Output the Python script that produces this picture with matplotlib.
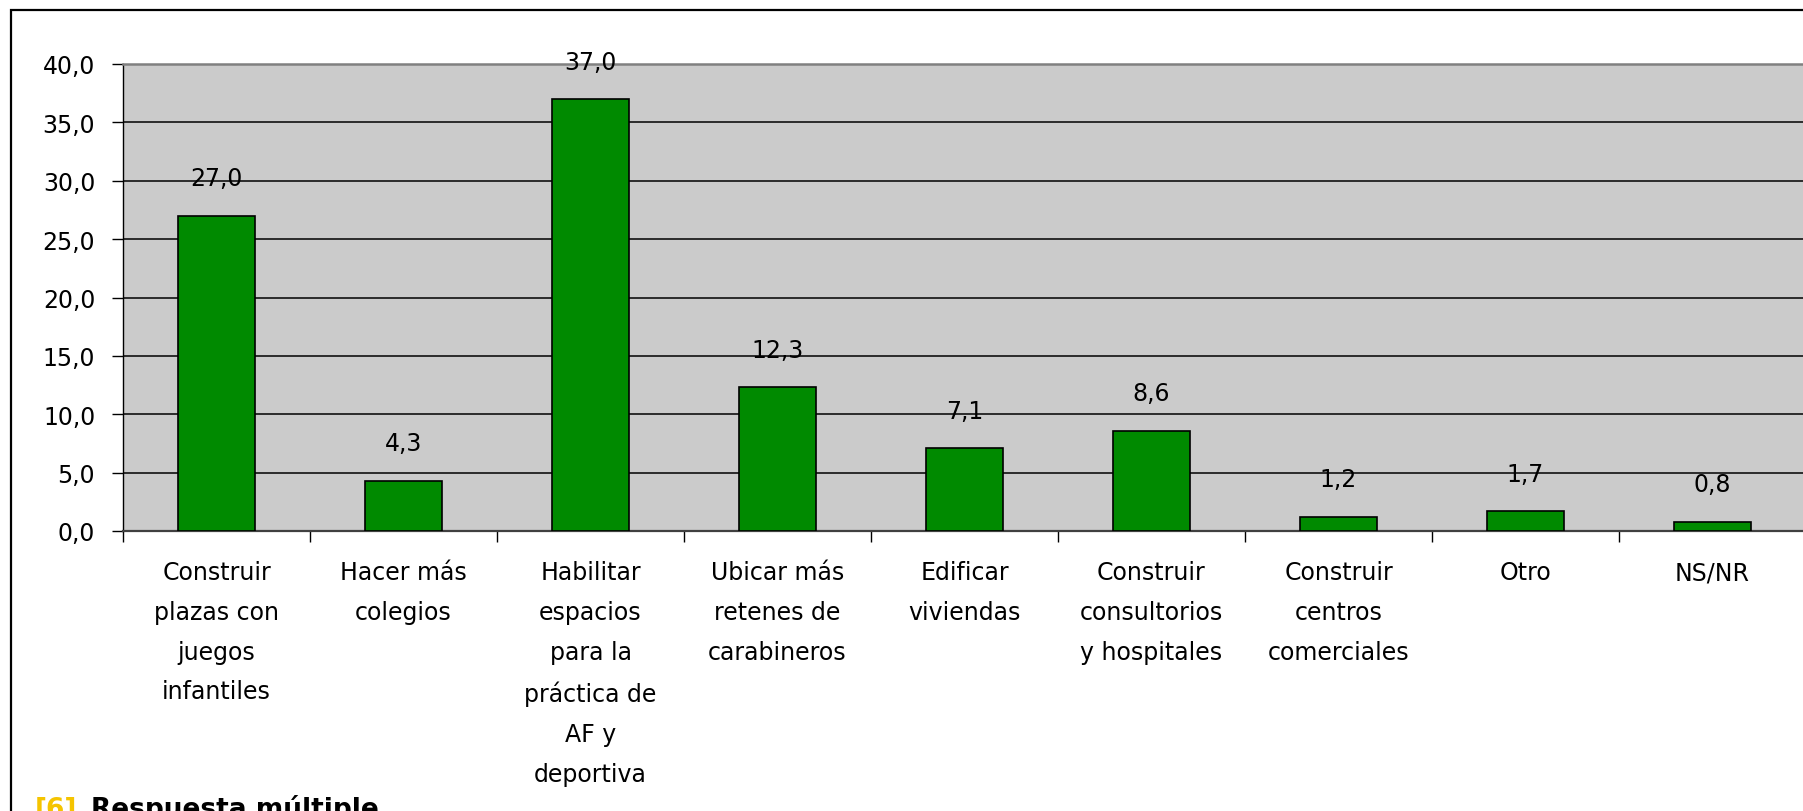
import numpy as np
import matplotlib
matplotlib.use("Agg")
import matplotlib.pyplot as plt
from matplotlib.patches import Rectangle

# Datos del grafico
categorias = [
    "Construir\nplazas con\njuegos\ninfantiles",
    "Hacer más\ncolegios",
    "Habilitar\nespacios\npara la\npráctica de\nAF y\ndeportiva",
    "Ubicar más\nretenes de\ncarabineros",
    "Edificar\nviviendas",
    "Construir\nconsultorios\ny hospitales",
    "Construir\ncentros\ncomerciales",
    "Otro",
    "NS/NR",
]
valores = [27.0, 4.3, 37.0, 12.3, 7.1, 8.6, 1.2, 1.7, 0.8]
y_ticks = [0, 5, 10, 15, 20, 25, 30, 35, 40]

W, H = 1803, 812
fig = plt.figure(figsize=(W / 100, H / 100), dpi=100)
plt.rcParams['font.family'] = ['DejaVu Sans']

# marco exterior
fig.patches.append(Rectangle((11 / W, -0.1), 1.2, (H - 11) / H + 0.1,
                             transform=fig.transFigure, fill=False,
                             edgecolor="black", linewidth=1.6))

# area del grafico
left, top, bottom = 123, 65, 532
n = len(categorias)
ancho_cat = 187
ax = fig.add_axes([left / W, (H - bottom) / H, n * ancho_cat / W, (bottom - top) / H])
ax.set_facecolor("#cbcbcb")

x = np.arange(n)
ax.bar(x, valores, width=0.41, color="#008a00", edgecolor="black", linewidth=1.2, zorder=3)

for xi, v in zip(x, valores):
    ax.annotate(f"{v:.1f}".replace(".", ","), (xi, v), xytext=(0, 27),
                textcoords="offset points", ha="center", va="center", fontsize=17)

ax.set_xlim(-0.5, n - 0.5)
ax.set_ylim(0, 40)
ax.set_yticks(y_ticks)
ax.set_yticklabels([f"{t:.1f}".replace(".", ",") for t in y_ticks], fontsize=17)
ax.yaxis.grid(True, color="black", linewidth=1.1, zorder=1)
ax.set_axisbelow(True)

ax.set_xticks(x)
ax.set_xticklabels(categorias, fontsize=17, linespacing=1.83, va="top")
ax.set_xticks(np.arange(n + 1) - 0.5, minor=True)
ax.tick_params(axis="x", which="major", length=0, pad=21)
ax.tick_params(axis="x", which="minor", length=8, width=1, color="black")
ax.tick_params(axis="y", length=8, width=1, color="black", pad=12)

ax.spines["left"].set_color("black")
ax.spines["left"].set_linewidth(1)
ax.spines["bottom"].set_color("#404040")
ax.spines["bottom"].set_linewidth(1.6)
ax.spines["top"].set_color("#808080")
ax.spines["top"].set_linewidth(1.8)
ax.spines["right"].set_visible(False)

# nota al pie
fig.text(35 / W, -0.006, "[6]", color="#f5c400", fontsize=19, fontweight="bold", va="baseline")
fig.text(91 / W, -0.006, "Respuesta múltiple", color="black", fontsize=19, fontweight="bold", va="baseline")

fig.savefig("out.png", dpi=100)
